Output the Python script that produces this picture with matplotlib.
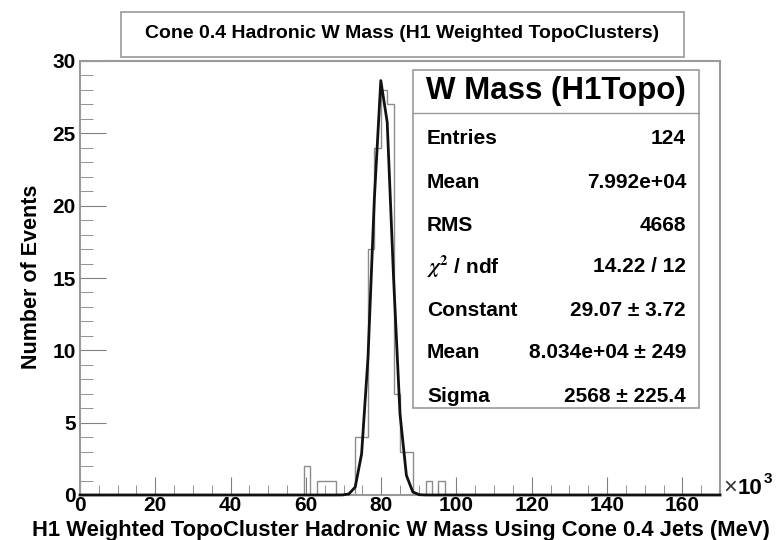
import numpy as np
import matplotlib
matplotlib.use("Agg")
import matplotlib.pyplot as plt
from matplotlib.patches import Rectangle
from matplotlib.ticker import MultipleLocator

plt.rcParams['font.family'] = ['Liberation Sans', 'DejaVu Sans']
plt.rcParams['font.weight'] = 'bold'
plt.rcParams['mathtext.fontset'] = 'stix'

# histogram: 100 bins from 0 to 170 (x10^3 MeV), only filled bins listed
n_bins = 100
x_lo, x_hi = 0.0, 170.0
filled_bins = [35, 37, 38, 39, 43, 44, 45, 46, 47, 48, 49, 50, 51, 54, 56]
bin_counts = [2, 1, 1, 1, 4, 4, 17, 24, 28, 27, 7, 3, 3, 1, 1]

# gaussian fit parameters (from the stats box)
fit_const = 29.07
fit_mean = 80.34
fit_sigma = 2.568

stat_labels = ["Entries", "Mean", "RMS", r"$\chi^2$ / ndf", "Constant", "Mean", "Sigma"]
stat_values = ["124", "7.992e+04", "4668", "14.22 / 12",
               "29.07 \u00b1 3.72", "8.034e+04 \u00b1 249", "2568 \u00b1 225.4"]

title = "Cone 0.4 Hadronic W Mass (H1 Weighted TopoClusters)"
box_title = "W Mass (H1Topo)"
xlabel = "H1 Weighted TopoCluster Hadronic W Mass Using Cone 0.4 Jets (MeV)"
ylabel = "Number of Events"

W, H = 782, 540


def fx(px):
    return px / W


def fy(py):
    return 1 - py / H


fig = plt.figure(figsize=(W / 100, H / 100), dpi=100)
ax = fig.add_axes([fx(80), fy(495), fx(720) - fx(80), fy(61) - fy(495)])

edges = np.linspace(x_lo, x_hi, n_bins + 1)
counts = np.zeros(n_bins)
counts[filled_bins] = bin_counts
ax.stairs(counts, edges, color='#8c8c8c', lw=1.0)

# fit drawn as ROOT does: polyline of 100 segments over the full range
xf = np.linspace(x_lo, x_hi, 101)
yf = fit_const * np.exp(-0.5 * ((xf - fit_mean) / fit_sigma) ** 2)
ax.plot(xf, yf, color='#111111', lw=2.0, clip_on=False, zorder=4)

ax.set_xlim(x_lo, x_hi)
ax.set_ylim(0, 30)
ax.xaxis.set_major_locator(MultipleLocator(20))
ax.xaxis.set_minor_locator(MultipleLocator(5))
ax.yaxis.set_major_locator(MultipleLocator(5))
ax.yaxis.set_minor_locator(MultipleLocator(1))
ax.set_xticks(np.arange(0, 161, 20))
ax.tick_params(which='both', direction='in', color='#808080', labelsize=15,
               top=False, right=False)
ax.tick_params(axis='x', which='major', length=13, pad=1)
ax.tick_params(axis='x', which='minor', length=7)
ax.tick_params(axis='y', which='major', length=19, pad=3)
ax.tick_params(axis='y', which='minor', length=9)
for lab in ax.get_xticklabels() + ax.get_yticklabels():
    lab.set_fontweight('bold')
for sp in ax.spines.values():
    sp.set_color('#9a9a9a')
    sp.set_linewidth(1.5)

ax.set_xlabel(xlabel, fontsize=15.8, fontweight='bold', labelpad=0)
ax.xaxis.set_label_coords((770 - 80) / 640, -0.057, transform=ax.transAxes)
ax.xaxis.label.set_horizontalalignment('right')
ax.set_ylabel(ylabel, fontsize=15.5, fontweight='bold')
ax.yaxis.set_label_coords((42 - 80) / 640, (495 - 277) / 434)

fig.text(fx(723), fy(488), "\u00d7", fontsize=17, fontweight='normal',
         ha='left', va='center', color='#333333')
fig.text(fx(738), fy(488), "10", fontsize=16, fontweight='bold',
         ha='left', va='center')
fig.text(fx(764), fy(479), "3", fontsize=11, fontweight='bold',
         ha='left', va='center')

# title box
fig.patches.append(Rectangle((fx(121), fy(57)), fx(684) - fx(121), fy(12) - fy(57),
                             transform=fig.transFigure, facecolor='white',
                             edgecolor='#9a9a9a', lw=1.2))
fig.text(fx(402), fy(34), title, fontsize=14, fontweight='bold',
         ha='center', va='center')

# stats box
fig.patches.append(Rectangle((fx(413), fy(408)), fx(699) - fx(413), fy(70) - fy(408),
                             transform=fig.transFigure, facecolor='white',
                             edgecolor='#9a9a9a', lw=1.2, zorder=5))
fig.add_artist(plt.Line2D([fx(413), fx(699)], [fy(113), fy(113)],
                          transform=fig.transFigure, color='#9a9a9a', lw=1.0, zorder=6))
fig.text(fx(556), fy(91), box_title, fontsize=22.5, fontweight='bold',
         ha='center', va='center', zorder=7)
row_y = [138, 182, 225, 267, 310, 353, 396]
for lab, val, ry in zip(stat_labels, stat_values, row_y):
    fig.text(fx(427), fy(ry), lab, fontsize=15, fontweight='bold',
             ha='left', va='center', zorder=7)
    fig.text(fx(686), fy(ry), val, fontsize=15, fontweight='bold',
             ha='right', va='center', zorder=7)

fig.savefig("out.png", dpi=100)
